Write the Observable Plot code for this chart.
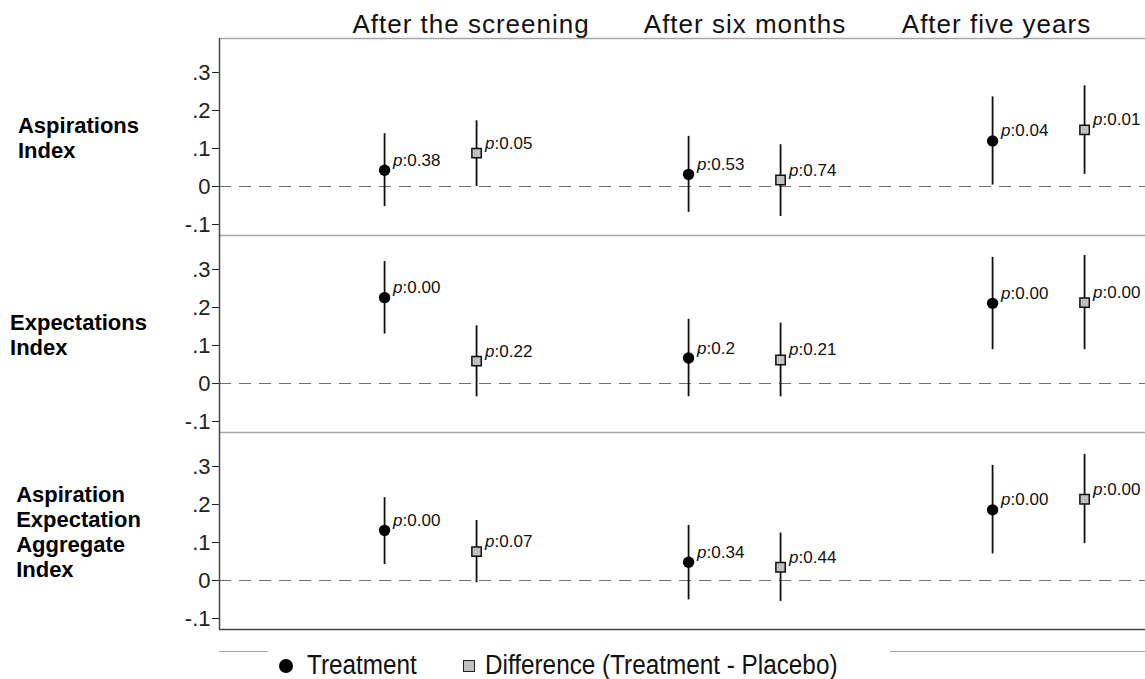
<!DOCTYPE html>
<html>
<head>
<meta charset="utf-8">
<script src="https://cdn.jsdelivr.net/npm/d3@7"></script>
<script src="https://cdn.jsdelivr.net/npm/@observablehq/plot@0.6"></script>
<style>
  body { margin: 0; background: #fff; }
  #wrap { position: relative; width: 1145px; height: 679px; overflow: hidden;
          font-family: "Liberation Sans", Arial, Helvetica, sans-serif; color: #111; background: #fff; }
  .title { position: absolute; top: 11px; font-size: 26px; line-height: 26px; letter-spacing: 1px;
           white-space: nowrap; transform: translateX(-50%); }
  #chart { position: absolute; left: 0; top: 36px; }
  .lg-line { position: absolute; top: 651px; height: 0; border-top: 1.5px solid #a6a6a6; }
  .lg-item { position: absolute; top: 652px; height: 26px; font-size: 27px; line-height: 26px; white-space: nowrap;
             transform: scaleX(0.9); transform-origin: left center; }
  .lg-circle { position: absolute; width: 14px; height: 14px; border-radius: 50%; background: #000; top: 659px; }
  .lg-square { position: absolute; width: 10px; height: 10px; background: #c0c0c0; border: 1.5px solid #222; top: 660px; }
</style>
</head>
<body>
<div id="wrap"></div>
<script>
// ---------------- data ----------------
const periods = ["After the screening", "After six months", "After five years"];
const rowLabels = ["Aspirations\nIndex", "Expectations\nIndex", "Aspiration\nExpectation\nAggregate\nIndex"];
const seriesNames = ["Treatment", "Difference (Treatment - Placebo)"];

// rows = indices, columns = periods
const treatEst = [[0.043, 0.032, 0.120], [0.226, 0.067, 0.211], [0.132, 0.048, 0.186]];
const treatLo  = [[-0.053, -0.068, 0.004], [0.130, -0.035, 0.089], [0.042, -0.051, 0.070]];
const treatHi  = [[0.139, 0.132, 0.236], [0.321, 0.169, 0.332], [0.218, 0.145, 0.303]];
const treatP   = [["0.38", "0.53", "0.04"], ["0.00", "0.2", "0.00"], ["0.00", "0.34", "0.00"]];

const diffEst = [[0.088, 0.017, 0.149], [0.059, 0.062, 0.213], [0.076, 0.035, 0.214]];
const diffLo  = [[0.000, -0.079, 0.032], [-0.035, -0.035, 0.089], [-0.006, -0.055, 0.097]];
const diffHi  = [[0.173, 0.110, 0.265], [0.152, 0.159, 0.337], [0.158, 0.125, 0.332]];
const diffP   = [["0.05", "0.74", "0.01"], ["0.22", "0.21", "0.00"], ["0.07", "0.44", "0.00"]];

const yTicks = [-0.1, 0, 0.1, 0.2, 0.3];

// ---------------- build table ----------------
const table = [];
rowLabels.forEach((row, i) => periods.forEach((per, j) => {
  table.push({row, period: j, series: seriesNames[0], est: treatEst[i][j], lo: treatLo[i][j], hi: treatHi[i][j], p: treatP[i][j]});
  table.push({row, period: j, series: seriesNames[1], est: diffEst[i][j], lo: diffLo[i][j], hi: diffHi[i][j], p: diffP[i][j]});
}));
const treat = table.filter(d => d.series === seriesNames[0]);
const diff = table.filter(d => d.series === seriesNames[1]);

// ---------------- layout ----------------
const pairOffset = 0.3026;
const xOf = d => d.period + (d.series === seriesNames[1] ? pairOffset : 0);
const xDomain = [-0.543, 2.503];
const yDomain = [-0.1289, 0.3895];
const labelY = 0.128;
const fontFamily = '"Liberation Sans", Arial, Helvetica, sans-serif';
const tickFmt = d => {
  if (Math.abs(d) < 1e-9) return "0";
  return (d < 0 ? "-" : "") + Math.abs(d).toFixed(1).replace(/^0/, "");
};

const chart = Plot.plot({
  width: 1145,
  height: 595,
  marginTop: 2,
  marginBottom: 2,
  marginLeft: 219,
  marginRight: 0,
  style: {fontFamily, fontSize: "22px", color: "#222", background: "transparent", overflow: "visible"},
  x: {domain: xDomain, axis: null},
  y: {domain: yDomain, ticks: yTicks, tickFormat: tickFmt, tickSize: 7, tickPadding: 2, label: null},
  fy: {domain: rowLabels, axis: null, padding: 0},
  marks: [
    Plot.ruleY([yDomain[1]], {stroke: "#a6a6a6", strokeWidth: 1.5}),
    Plot.ruleY([0], {stroke: "#6e6e6e", strokeWidth: 1.2, strokeDasharray: "12,8"}),
    Plot.ruleY([{row: rowLabels[rowLabels.length - 1], v: yDomain[0]}], {fy: "row", y: "v", stroke: "#444", strokeWidth: 1.5}),
    Plot.ruleX([xDomain[0]], {stroke: "#444", strokeWidth: 1.5}),
    Plot.ruleX(table, {x: xOf, y1: "lo", y2: "hi", fy: "row", stroke: "#111", strokeWidth: 1.8}),
    Plot.dot(treat, {x: xOf, y: "est", fy: "row", symbol: "circle", r: 5.7, fill: "#000"}),
    Plot.dot(diff, {x: xOf, y: "est", fy: "row", symbol: "square", r: 5.3, fill: "#c0c0c0", stroke: "#111", strokeWidth: 1.5}),
    Plot.text(table, {x: xOf, y: "est", fy: "row", text: () => "p", dx: 8.5, dy: -10, textAnchor: "start",
                      lineAnchor: "middle", fontStyle: "italic", fontSize: 17, fill: "#111"}),
    Plot.text(table, {x: xOf, y: "est", fy: "row", text: d => ":" + d.p, dx: 18, dy: -10, textAnchor: "start",
                      lineAnchor: "middle", fontSize: 17, fill: "#111"}),
    Plot.text(rowLabels, {fy: d => d, y: () => labelY, text: d => d, frameAnchor: "left", dx: -141,
                          textAnchor: "start", lineAnchor: "middle", lineHeight: 25 / 22,
                          fontSize: 22, fontWeight: "bold", fill: "#000", ariaDescription: "row-label"})
  ]
});

const wrap = document.getElementById("wrap");

// column titles
const titleCenters = [471, 745, 996.5];
periods.forEach((p, i) => {
  const t = document.createElement("div");
  t.className = "title";
  t.style.left = titleCenters[i] + "px";
  t.textContent = p;
  wrap.appendChild(t);
});

const holder = document.createElement("div");
holder.id = "chart";
holder.appendChild(chart);
wrap.appendChild(holder);

// row labels: block centred, lines left-justified
const labelTexts = new Set();
chart.querySelectorAll('g[aria-description="row-label"] text').forEach(t => labelTexts.add(t));
chart.querySelectorAll("text").forEach(t => {
  if (t.querySelector("tspan") && t.getAttribute("font-weight") === "bold") labelTexts.add(t);
});
labelTexts.forEach(t => {
  const w = t.getBBox().width;
  const tr = t.getAttribute("transform") || "";
  t.setAttribute("transform", (tr ? tr + " " : "") + `translate(${-w / 2},0)`);
});

// legend
const addEl = (cls, css, text) => {
  const e = document.createElement("div");
  e.className = cls;
  Object.assign(e.style, css);
  if (text) e.textContent = text;
  wrap.appendChild(e);
};
addEl("lg-line", {left: "219px", width: "49px"});
addEl("lg-line", {left: "890px", width: "255px"});
addEl("lg-circle", {left: "278.5px"});
addEl("lg-item", {left: "307px"}, seriesNames[0]);
addEl("lg-square", {left: "462.5px"});
addEl("lg-item", {left: "485px"}, seriesNames[1]);
</script>
</body>
</html>
